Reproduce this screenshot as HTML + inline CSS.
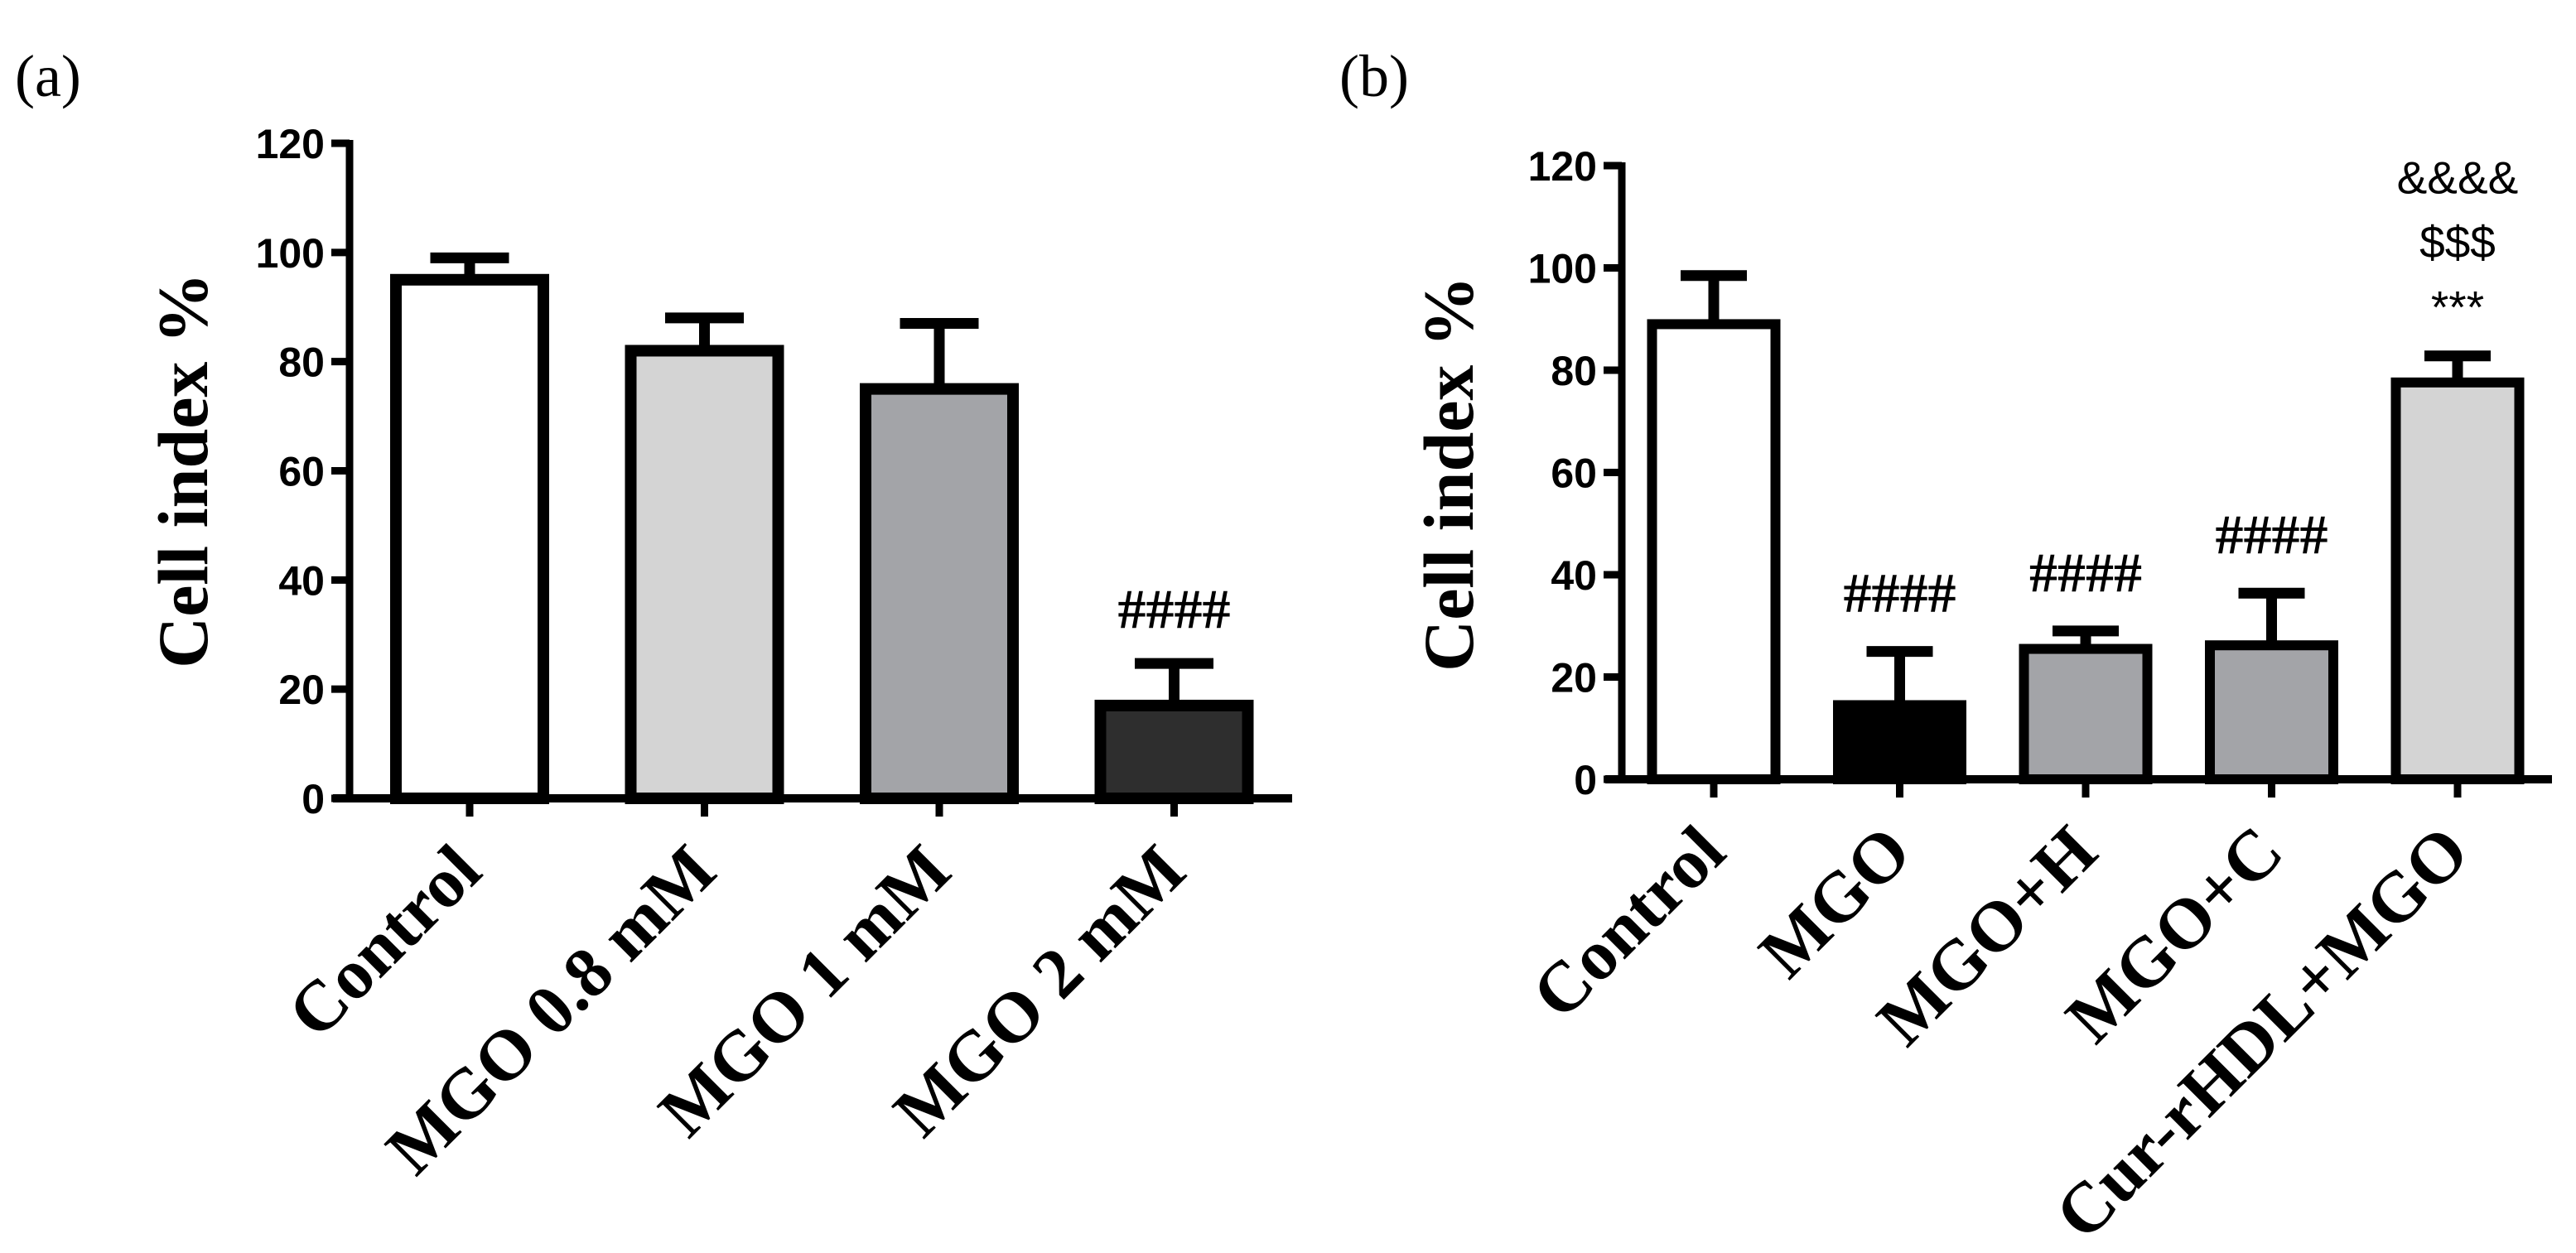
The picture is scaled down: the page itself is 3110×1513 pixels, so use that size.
<!DOCTYPE html>
<html><head><meta charset="utf-8"><style>
html,body{margin:0;padding:0;background:#fff;}
svg{display:block;}
.tick{font-family:"Liberation Sans",Arial,sans-serif;font-weight:bold;font-size:50px;}
.xl{font-family:"Liberation Serif",serif;font-weight:bold;font-size:86px;}
.yt{font-family:"Liberation Serif",serif;font-weight:bold;font-size:86px;}
.pl{font-family:"Liberation Serif",serif;font-size:72px;}
.hash{font-family:"Liberation Serif",serif;font-weight:bold;font-size:68px;}
.sans{font-family:"Liberation Sans",Arial,sans-serif;font-size:55px;}
</style></head><body>
<svg id="fig" width="3110" height="1513" viewBox="0 0 3110 1513" xmlns="http://www.w3.org/2000/svg">
<text class="pl" x="18" y="116">(a)</text>
<text class="pl" x="1617" y="116">(b)</text>
</svg>
<script>
// Panel A data
const catsA = ["Control","MGO 0.8 mM","MGO 1 mM","MGO 2 mM"];
const valsA = [95, 82, 75, 17];
const errA = [99, 88, 87, 24.7];
const fillsA = ["#ffffff","#d4d4d4","#a3a4a8","#2e2e2e"];
const annA = ["","","","####"];
// Panel B data
const catsB = ["Control","MGO","MGO+H","MGO+C","Cur-rHDL+MGO"];
const valsB = [89, 14.5, 25.5, 26.2, 77.6];
const errB = [98.5, 25, 29, 36.4, 82.8];
const fillsB = ["#ffffff","#000000","#a3a4a8","#a3a4a8","#d4d4d4"];
const annB = [[],["####"],["####"],["####"],["***","$$$","&&&&"]];
const yTicks = [0,20,40,60,80,100,120];

const NS = "http://www.w3.org/2000/svg";
const svg = document.getElementById('fig');
function mk(tag, attrs, parent){
  const e = document.createElementNS(NS, tag);
  for (const k in attrs) e.setAttribute(k, attrs[k]);
  (parent||svg).appendChild(e);
  return e;
}

function panel(cfg){
  const g = mk('g', {});
  
  
  const y = v => cfg.y0 - v * (cfg.y0 - cfg.y120) / 120;
  const x = i => cfg.x0 + i * cfg.step;
  // y axis
  const ya = mk('line', {x1:cfg.ax, y1:y(120)-4, x2:cfg.ax, y2:cfg.y0+5, stroke:'#000','stroke-width':9}, g);
  
  
  yTicks.forEach(t => {
    const tl = mk('line', {x1:cfg.ax-22, y1:y(t), x2:cfg.ax, y2:y(t), stroke:'#000','stroke-width':9}, g);
    
    
    const tt = mk('text', {x:cfg.ax-30, y:y(t)+18, 'text-anchor':'end', class:'tick'}, g);
    tt.textContent = t;
    
    
  });
  const title = mk('text', {x:0, y:0, 'text-anchor':'middle', class:'yt', transform:`translate(${cfg.tx},${cfg.ty}) rotate(-90)`}, g);
  title.textContent = 'Cell index %';
  
  
  // bars
  cfg.cats.forEach((c, i) => {
    const cx = x(i);
    const ex = mk('line', {x1:cx, y1:y(cfg.vals[i]), x2:cx, y2:y(cfg.errs[i]), stroke:'#000','stroke-width':13}, g);
    
    
    const cap = mk('line', {x1:cx-cfg.cap/2, y1:y(cfg.errs[i]), x2:cx+cfg.cap/2, y2:y(cfg.errs[i]), stroke:'#000','stroke-width':13}, g);
    
    
    const b = mk('rect', {x:cx-cfg.bw/2, y:y(cfg.vals[i]), width:cfg.bw, height:cfg.y0-y(cfg.vals[i]), fill:cfg.fills[i], stroke:'#000','stroke-width':cfg.sw}, g);
    
    
    const tk = mk('line', {x1:cx, y1:cfg.y0, x2:cx, y2:cfg.y0+22, stroke:'#000','stroke-width':9}, g);
    
    
    const lx = cx + cfg.lox, ly = cfg.y0 + cfg.loy;
    const lb = mk('text', {x:0, y:0, 'text-anchor':'end', class:'xl', transform:`translate(${lx},${ly}) rotate(-45)`}, g);
    lb.textContent = c;
    
    
    // annotations
    const ann = cfg.ann[i];
    const list = Array.isArray(ann) ? ann : (ann ? [ann] : []);
    list.forEach((a, k) => {
      const isHash = a === '####';
      const base = isHash ? y(cfg.errs[i]) - cfg.hashOff : y(cfg.errs[i]) - 40 - k * 78;
      const at = mk('text', {x:cx, y:base, 'text-anchor':'middle', class: isHash ? 'hash' : 'sans'}, g);
      at.textContent = a;
      
      
    });
  });
  const xa = mk('line', {x1:cfg.ax-20, y1:cfg.y0, x2:cfg.xend, y2:cfg.y0, stroke:'#000','stroke-width':10}, g);
  
  
}

panel({name:'panel-a-chart', cats:catsA, vals:valsA, errs:errA, fills:fillsA, ann:annA,
  ax:422, y0:964, y120:173, x0:567, step:283.5, bw:178, sw:14, cap:95, xend:1560,
  tx:250, ty:568, lox:18, loy:92, hashOff:43});
panel({name:'panel-b-chart', cats:catsB, vals:valsB, errs:errB, fills:fillsB, ann:annB,
  ax:1958, y0:941, y120:200, x0:2069, step:224.5, bw:149, sw:12, cap:80, xend:3081,
  tx:1778, ty:572, lox:18, loy:92, hashOff:48});
</script>
</body></html>
